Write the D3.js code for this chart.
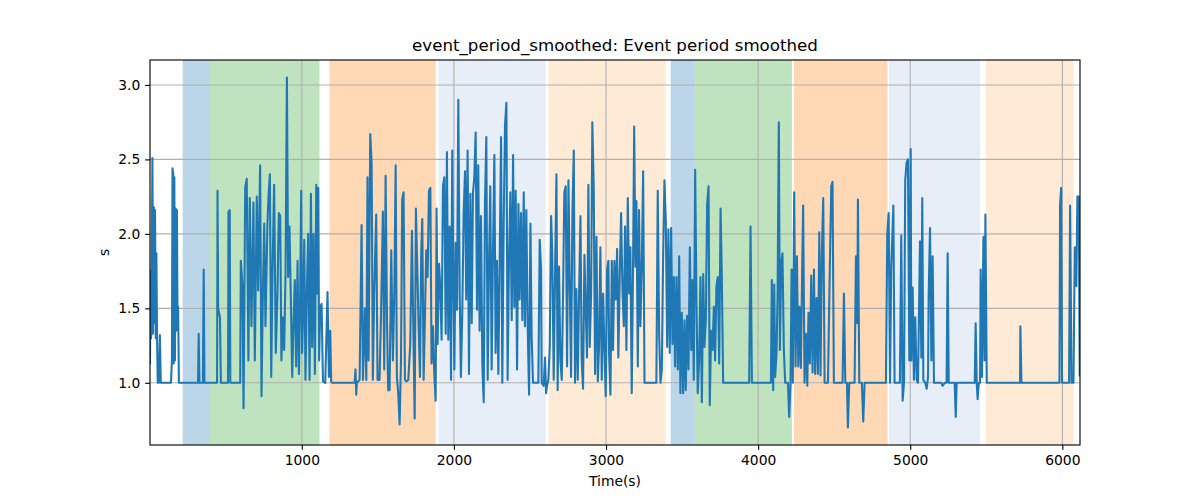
<!DOCTYPE html>
<html>
<head>
<meta charset="utf-8">
<script src="https://cdn.jsdelivr.net/npm/d3@7"></script>
<style>
  html, body { margin: 0; padding: 0; background: #fff; }
  svg { display: block; font-family: "DejaVu Sans", sans-serif; }
</style>
</head>
<body>
<svg id="chart" width="1200" height="500"></svg>
<script>
// ---------- data ----------
const title = "event_period_smoothed: Event period smoothed";
const xLabel = "Time(s)";
const yLabel = "s";
const xTicks = [1000, 2000, 3000, 4000, 5000, 6000];
const yTicks = [1.0, 1.5, 2.0, 2.5, 3.0];

// shaded periods: [start, end, colour name]
const periods = [
  [217, 395, "blue"],
  [395, 1116, "green"],
  [1182, 1880, "orange"],
  [1900, 2603, "lightblue"],
  [2622, 3393, "lightorange"],
  [3425, 3583, "blue"],
  [3583, 4222, "green"],
  [4235, 4851, "orange"],
  [4860, 5459, "lightblue"],
  [5497, 6075, "lightorange"]
];
const periodColors = {
  blue: "#1f77b4", green: "#2ca02c", orange: "#ff7f0e",
  lightblue: "#aec7e8", lightorange: "#ffbb78"
};

// smoothed event period: [time (s), value (s)]
const series = [
  [2,1.13],[5,1.75],[9,1.30],[13,1.78],[18,2.51],[22,1.33],[27,2.18],[31,1.40],[35,2.16],[40,1.30],[44,1.87],[48,1.33],[53,1.0],[60,1.0],[67,1.32],[73,1.0],
  [140,1.0],[146,1.15],[150,2.44],[155,2.40],[158,1.13],[162,2.38],[166,1.15],[171,2.17],[175,1.35],[179,2.16],[183,1.40],[187,1.51],[192,1.0],
  [318,1.0],[322,1.33],[327,1.0],[350,1.0],[355,1.76],[360,1.0],
  [443,1.0],[446,2.29],[450,1.50],[462,1.44],[468,1.0],[515,1.0],[518,2.15],[522,1.10],[526,2.16],[530,1.0],
  [595,1.0],[599,1.82],[610,1.65],[617,0.83],[628,2.31],[638,2.37],[649,1.15],[658,2.24],[669,1.38],[682,2.21],[691,1.15],[704,2.25],[713,1.62],
  [726,2.46],[735,0.91],[744,1.60],[753,2.07],[761,1.38],[774,2.07],[781,2.25],[790,2.40],[799,1.04],[807,1.73],[818,2.33],[829,1.20],[840,1.60],
  [849,2.14],[858,2.12],[866,1.15],[875,1.44],[884,1.22],[893,1.73],[902,3.05],[910,1.71],[919,2.05],[928,1.56],[937,1.04],[946,1.42],[954,1.69],
  [963,1.11],[972,1.82],[981,1.06],[989,1.56],[996,2.29],[1002,1.20],[1007,1.40],[1016,1.96],[1024,1.02],[1033,1.60],[1042,2.00],[1051,1.02],[1060,2.27],
  [1068,1.24],[1077,2.00],[1086,1.06],[1095,2.33],[1101,1.60],[1108,2.31],[1114,1.15],[1121,1.51],[1130,1.53],[1139,1.01],[1154,1.0],[1169,1.61],
  [1178,1.04],[1187,1.35],[1193,1.01],[1200,1.0],
  [1347,1.0],[1353,1.09],[1358,0.92],[1362,1.0],[1380,1.02],[1393,2.06],[1402,1.02],[1415,1.50],[1424,1.02],[1432,2.38],[1439,1.15],[1450,2.67],
  [1459,2.47],[1467,1.02],[1476,1.60],[1489,2.13],[1498,1.02],[1511,1.02],[1520,1.42],[1529,1.91],[1533,2.15],[1542,1.09],[1551,2.39],[1560,1.42],
  [1568,0.95],[1577,0.95],[1588,1.89],[1599,1.15],[1608,1.60],[1617,2.46],[1625,1.04],[1634,0.93],[1643,0.72],[1652,1.15],[1660,2.23],[1669,2.28],
  [1678,1.02],[1687,1.01],[1700,1.02],[1713,1.26],[1724,2.02],[1733,1.38],[1742,0.76],[1750,2.17],[1759,1.78],[1768,1.38],[1777,1.04],[1785,1.87],
  [1792,2.10],[1801,1.02],[1810,1.47],[1818,1.89],[1827,1.71],[1836,2.29],[1845,2.31],[1853,1.13],[1862,1.38],[1871,1.06],[1880,0.88],[1886,2.17],
  [1893,1.26],[1902,1.80],[1910,1.65],[1919,1.29],[1928,2.32],[1937,2.38],[1946,1.33],[1954,2.55],[1963,1.29],[1972,2.05],[1981,1.02],[1989,2.56],
  [1994,1.94],[2003,1.09],[2011,1.94],[2020,1.49],[2029,2.90],[2038,1.60],[2046,1.04],[2055,1.47],[2064,2.14],[2073,2.42],[2081,1.56],[2090,2.56],
  [2099,1.06],[2108,2.27],[2117,1.40],[2125,2.27],[2134,2.38],[2143,2.68],[2152,1.49],[2160,2.46],[2169,1.35],[2178,2.12],[2187,1.11],[2196,0.87],
  [2204,2.20],[2213,2.65],[2222,1.02],[2231,1.82],[2239,2.32],[2248,1.09],[2257,1.89],[2266,2.53],[2274,1.20],[2283,1.82],[2292,1.06],[2301,1.84],
  [2310,2.65],[2318,1.00],[2327,2.05],[2336,2.73],[2345,2.88],[2353,1.02],[2362,1.82],[2371,2.28],[2380,1.42],[2389,2.53],[2397,1.51],[2406,2.29],
  [2415,1.09],[2424,2.20],[2432,1.56],[2441,2.14],[2450,1.42],[2459,2.28],[2467,1.38],[2476,2.16],[2485,1.38],[2494,0.92],[2503,2.07],[2511,1.31],
  [2520,1.00],[2555,1.00],[2564,1.96],[2573,1.76],[2577,1.00],[2590,0.98],[2599,1.17],[2606,0.93],[2612,0.98],[2621,1.02],[2630,1.24],[2639,2.12],
  [2647,1.86],[2656,1.02],[2665,1.73],[2674,2.40],[2682,0.95],[2691,1.78],[2700,1.15],[2709,1.02],[2717,1.56],[2726,2.28],[2735,2.32],[2744,1.11],
  [2753,2.36],[2761,1.71],[2770,1.04],[2779,2.14],[2788,2.56],[2796,1.00],[2805,1.63],[2814,1.02],[2823,1.60],[2832,2.12],[2840,1.15],[2849,0.96],
  [2858,1.86],[2867,1.47],[2875,1.17],[2884,2.33],[2893,1.24],[2902,1.60],[2910,2.75],[2919,2.32],[2928,1.06],[2937,1.98],[2946,1.01],[2954,1.24],
  [2963,1.91],[2972,1.02],[2981,1.60],[2989,1.24],[2998,0.91],[3007,1.76],[3016,1.82],[3020,1.20],[3029,0.92],[3038,1.82],[3046,1.22],[3055,1.82],
  [3064,1.56],[3073,1.90],[3081,1.17],[3090,1.71],[3099,2.14],[3108,1.62],[3117,1.38],[3125,2.05],[3134,1.22],[3143,2.24],[3152,1.60],[3160,1.91],
  [3169,0.93],[3178,1.82],[3185,2.72],[3193,1.78],[3200,2.22],[3209,1.11],[3217,2.16],[3226,1.38],[3235,1.78],[3244,2.42],[3253,1.00],
  [3331,1.00],[3340,2.29],[3349,1.33],[3358,1.00],[3367,1.09],[3375,1.82],[3384,2.36],[3393,2.09],[3402,1.24],[3410,2.03],[3419,1.20],[3428,2.04],
  [3437,1.26],[3446,1.71],[3454,1.11],[3463,1.71],[3472,1.09],[3481,1.85],[3489,0.93],[3498,1.47],[3507,0.93],[3516,1.42],[3524,0.95],[3533,1.45],
  [3542,1.09],[3551,1.91],[3560,1.22],[3568,1.69],[3577,1.02],[3586,2.43],[3595,1.51],[3603,0.93],[3612,1.15],[3621,1.71],[3630,0.87],[3639,1.73],
  [3647,1.24],[3656,1.42],[3665,2.20],[3674,2.32],[3682,0.85],[3691,1.35],[3700,1.22],[3709,1.51],[3717,1.15],[3726,1.65],[3735,1.71],[3744,1.13],
  [3753,2.17],[3761,1.73],[3770,1.00],[3941,1.00],[3950,2.05],[3959,1.00],
  [4084,1.00],[4090,1.69],[4099,0.95],[4106,1.66],[4112,1.04],[4121,1.20],[4128,1.60],[4136,2.75],[4143,1.22],[4152,1.81],[4160,1.87],[4169,1.22],
  [4178,1.00],[4196,1.00],[4204,0.77],[4213,1.00],[4220,1.76],[4228,1.00],[4237,2.28],[4246,1.11],[4255,1.85],[4264,1.11],[4272,1.51],[4281,1.10],
  [4290,1.80],[4296,2.19],[4305,1.00],[4314,1.33],[4323,0.98],[4331,1.47],[4340,1.13],[4349,1.72],[4358,1.07],[4367,1.76],[4375,1.06],[4384,1.57],
  [4393,1.06],[4402,2.01],[4410,1.05],[4419,1.87],[4428,2.24],[4437,1.00],[4459,1.00],[4472,1.82],[4481,2.32],[4489,2.35],[4498,1.00],
  [4555,1.00],[4564,1.60],[4573,1.00],[4584,1.00],[4590,0.70],[4599,1.00],[4634,1.00],[4643,1.85],[4652,1.40],[4656,2.23],[4665,1.00],
  [4682,1.00],[4691,0.74],[4700,1.00],[4840,1.00],[4849,2.00],[4858,2.14],[4867,1.00],[4875,1.78],[4884,2.03],[4889,2.19],[4897,1.00],
  [4932,1.00],[4941,1.99],[4950,0.88],[4959,1.00],[4967,2.36],[4976,2.48],[4985,2.50],[4994,1.15],[5003,2.57],[5007,1.15],[5016,1.64],[5024,1.02],
  [5033,1.44],[5042,1.02],[5051,1.00],[5064,1.95],[5073,1.17],[5079,2.24],[5086,1.02],[5099,1.00],[5108,0.96],[5117,1.04],[5121,1.58],[5130,2.04],
  [5139,1.15],[5147,1.85],[5156,1.00],[5204,1.00],[5213,0.98],[5226,1.00],[5239,1.00],[5246,1.87],[5253,1.00],[5292,1.00],[5299,0.77],[5305,1.00],
  [5424,1.00],[5430,1.40],[5437,1.00],[5443,0.89],[5450,1.00],[5459,1.00],[5463,1.76],[5472,1.04],[5481,1.98],[5489,1.15],[5494,2.13],[5503,1.00],
  [5722,1.00],[5724,1.38],[5731,1.00],[5981,1.00],[5985,2.19],[5992,2.31],[5998,1.00],[6044,1.00],[6051,2.19],[6060,1.00],[6073,1.00],[6082,1.91],
  [6088,1.85],[6092,1.65],[6099,2.25],[6108,2.25],[6114,1.05]
];

// ---------- layout ----------
const PT = 100 / 72; // matplotlib points -> px at 100 dpi
const svg = d3.select("#chart");
const margin = { left: 150, right: 120, top: 60, bottom: 55 };
const W = 1200, H = 500;
const x0 = margin.left, x1 = W - margin.right;
const y0 = margin.top, y1 = H - margin.bottom;

const vals = series.map(d => d[1]);
const vMin = d3.min(vals), vMax = d3.max(vals);
const pad = (vMax - vMin) * 0.05;

const x = d3.scaleLinear().domain([2, 6116]).range([x0, x1]);
const y = d3.scaleLinear().domain([vMin - pad, vMax + pad]).range([y1, y0]);

const plot = svg.append("g");
const clipId = "plotclip";
svg.append("defs").append("clipPath").attr("id", clipId)
  .append("rect").attr("x", x0).attr("y", y0).attr("width", x1 - x0).attr("height", y1 - y0);

// shaded periods
plot.append("g").selectAll("rect").data(periods).join("rect")
  .attr("x", d => x(d[0]))
  .attr("y", y0)
  .attr("width", d => x(d[1]) - x(d[0]))
  .attr("height", y1 - y0)
  .attr("fill", d => periodColors[d[2]])
  .attr("fill-opacity", 0.3);

// grid
const grid = plot.append("g").attr("stroke", "#b0b0b0").attr("stroke-width", 0.8 * PT);
grid.selectAll("line.gx").data(xTicks).join("line").attr("class", "gx")
  .attr("x1", d => x(d)).attr("x2", d => x(d)).attr("y1", y0).attr("y2", y1);
grid.selectAll("line.gy").data(yTicks).join("line").attr("class", "gy")
  .attr("y1", d => y(d)).attr("y2", d => y(d)).attr("x1", x0).attr("x2", x1);

// line
const line = d3.line().x(d => x(d[0])).y(d => y(d[1]));
plot.append("path").datum(series)
  .attr("clip-path", `url(#${clipId})`)
  .attr("d", line)
  .attr("fill", "none")
  .attr("stroke", "#1f77b4")
  .attr("stroke-width", 1.5 * PT)
  .attr("stroke-linejoin", "round")
  .attr("stroke-linecap", "square");

// axes
const xAxis = d3.axisBottom(x).tickValues(xTicks).tickFormat(d3.format("d")).tickSize(3.5 * PT).tickPadding(3.5 * PT);
const yAxis = d3.axisLeft(y).tickValues(yTicks).tickFormat(d3.format(".1f")).tickSize(3.5 * PT).tickPadding(3.5 * PT);

const gx = svg.append("g").attr("transform", `translate(0,${y1})`).call(xAxis);
const gy = svg.append("g").attr("transform", `translate(${x0},0)`).call(yAxis);
[gx, gy].forEach(g => {
  g.select(".domain").remove();
  g.selectAll(".tick line").attr("stroke", "#000").attr("stroke-width", 0.8 * PT);
  g.selectAll(".tick text").attr("fill", "#000").style("font-size", (10 * PT) + "px")
    .style("font-family", "'DejaVu Sans', sans-serif");
});

// frame
svg.append("rect").attr("x", x0).attr("y", y0).attr("width", x1 - x0).attr("height", y1 - y0)
  .attr("fill", "none").attr("stroke", "#000").attr("stroke-width", 0.8 * PT);

// labels
svg.append("text").attr("x", (x0 + x1) / 2).attr("y", 51).attr("text-anchor", "middle")
  .style("font-size", (12 * PT) + "px").attr("fill", "#000").text(title);
svg.append("text").attr("x", (x0 + x1) / 2).attr("y", 486).attr("text-anchor", "middle")
  .style("font-size", (10 * PT) + "px").attr("fill", "#000").text(xLabel);
svg.append("text").attr("transform", `translate(109,${(y0 + y1) / 2}) rotate(-90)`)
  .attr("text-anchor", "middle").style("font-size", (10 * PT) + "px").attr("fill", "#000").text(yLabel);
</script>
</body>
</html>
